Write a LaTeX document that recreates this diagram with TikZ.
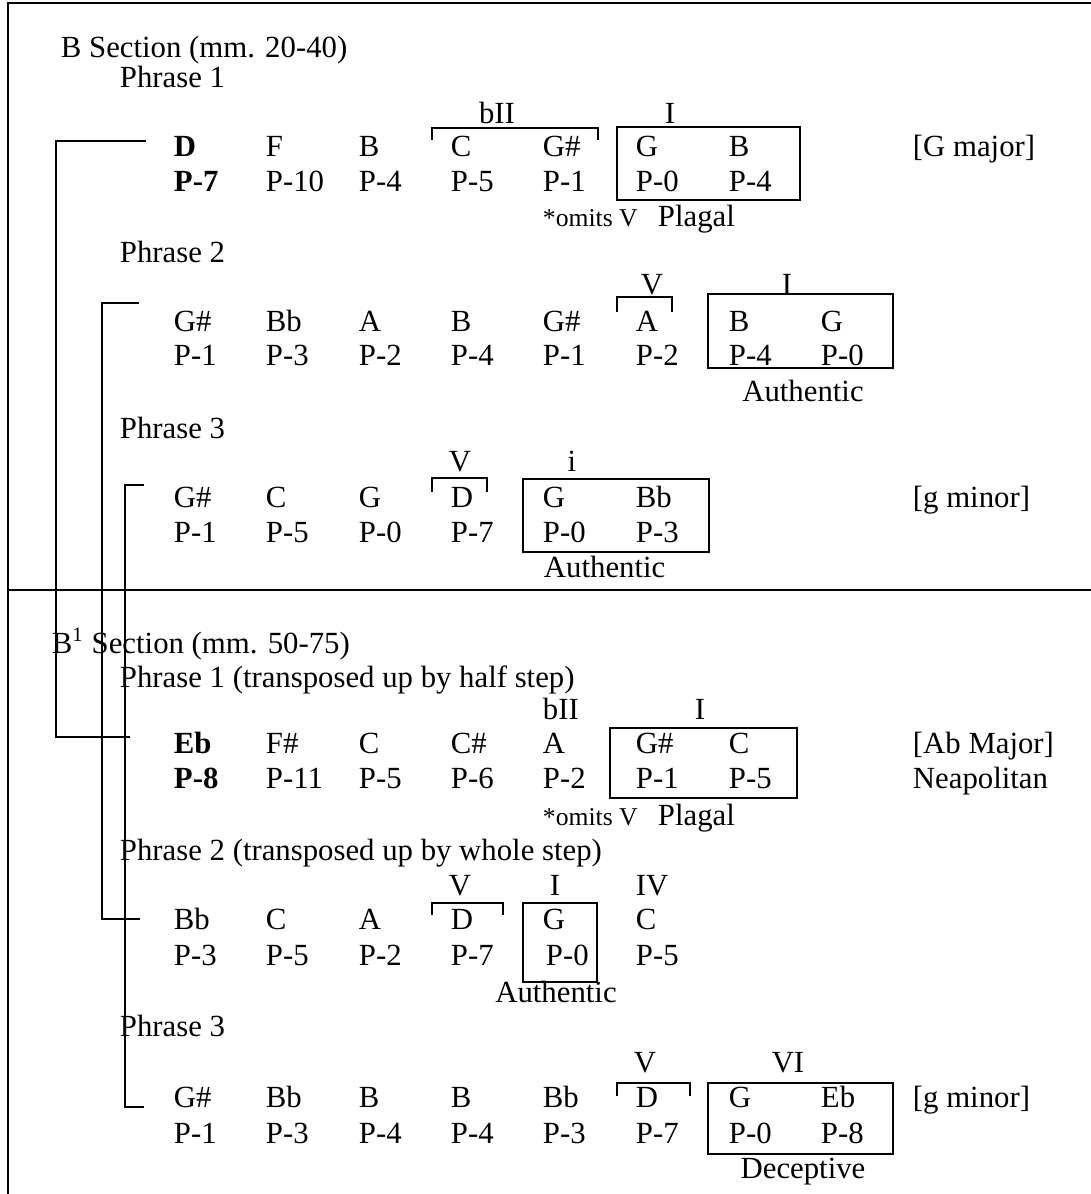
\documentclass[tikz,border=0pt,12pt]{standalone}
\usepackage{fontspec}
\setmainfont{Liberation Serif}

\begin{document}
\begin{tikzpicture}[x=0.39pt, y=-0.39pt, line width=0.75pt,
  lab/.style={anchor=base west, inner sep=0pt},
  mid/.style={anchor=base, inner sep=0pt},
  note/.style={anchor=base west, inner sep=0pt, font=\fontsize{10}{12}\selectfont}]

\useasboundingbox (0,0) rectangle (1091,1194);

% frame
\draw (8,1194) -- (8,3) -- (1091,3);
\draw (8,590) -- (1091,590);

% B section
\node[lab] (bsec) at (60,57) {B Section (mm. 20-40)};

% phrase 1
\node[lab] (pa1) at (119,87) {Phrase 1};
\node[mid] (r11) at (497,123) {bII};
\node[mid] (r12) at (670,123) {I};
\node[lab] (n11) at (173,156) {\textbf{D}};
\node[lab] (n12) at (265,156) {F};
\node[lab] (n13) at (358,156) {B};
\node[lab] (n14) at (450,156) {C};
\node[lab] (n15) at (542,156) {G\#};
\node[lab] (n16) at (635,156) {G};
\node[lab] (n17) at (728,156) {B};
\node[lab] (k1) at (912,156) {[G major]};
\node[lab] (p11) at (173,191) {\textbf{P-7}};
\node[lab] (p12) at (265,191) {P-10};
\node[lab] (p13) at (358,191) {P-4};
\node[lab] (p14) at (450,191) {P-5};
\node[lab] (p15) at (542,191) {P-1};
\node[lab] (p16) at (635,191) {P-0};
\node[lab] (p17) at (728,191) {P-4};
\node[note] (o1) at (542,226) {*omits V};
\node[lab] (c1) at (657,226) {Plagal};
\draw (432,140) -- (432,128) -- (598,128) -- (598,140);
\draw (617,127) rectangle (800,200);

% phrase 2
\node[lab] (pa2) at (119,262) {Phrase 2};
\node[mid] (r21) at (652,294) {V};
\node[mid] (r22) at (787,294) {I};
\node[lab] (n21) at (173,331) {G\#};
\node[lab] (n22) at (265,331) {Bb};
\node[lab] (n23) at (358,331) {A};
\node[lab] (n24) at (450,331) {B};
\node[lab] (n25) at (542,331) {G\#};
\node[lab] (n26) at (635,331) {A};
\node[lab] (n27) at (728,331) {B};
\node[lab] (n28) at (820,331) {G};
\node[lab] (p21) at (173,365) {P-1};
\node[lab] (p22) at (265,365) {P-3};
\node[lab] (p23) at (358,365) {P-2};
\node[lab] (p24) at (450,365) {P-4};
\node[lab] (p25) at (542,365) {P-1};
\node[lab] (p26) at (635,365) {P-2};
\node[lab] (p27) at (728,365) {P-4};
\node[lab] (p28) at (820,365) {P-0};
\node[mid] (c2) at (803,401) {Authentic};
\draw (617,312) -- (617,297) -- (672,297) -- (672,312);
\draw (708,294) rectangle (893,368);

% phrase 3
\node[lab] (pa3) at (119,438) {Phrase 3};
\node[mid] (r31) at (460,471) {V};
\node[mid] (r32) at (572,471) {i};
\node[lab] (n31) at (173,507) {G\#};
\node[lab] (n32) at (265,507) {C};
\node[lab] (n33) at (358,507) {G};
\node[lab] (n34) at (450,507) {D};
\node[lab] (n35) at (542,507) {G};
\node[lab] (n36) at (635,507) {Bb};
\node[lab] (k3) at (912,507) {[g minor]};
\node[lab] (p31) at (173,542) {P-1};
\node[lab] (p32) at (265,542) {P-5};
\node[lab] (p33) at (358,542) {P-0};
\node[lab] (p34) at (450,542) {P-7};
\node[lab] (p35) at (542,542) {P-0};
\node[lab] (p36) at (635,542) {P-3};
\node[lab] (c3) at (543,577) {Authentic};
\draw (432,492) -- (432,478) -- (487,478) -- (487,492);
\draw (523,479) rectangle (709,552);

% B1 section
\node[lab] (bsec1) at (51,653) {B\textsuperscript{1} Section (mm. 50-75)};

% phrase 1 transposed
\node[lab] (pa4) at (119,687) {Phrase 1 (transposed up by half step)};
\node[lab] (r41) at (542,719) {bII};
\node[mid] (r42) at (700,719) {I};
\node[lab] (n41) at (173,753) {\textbf{Eb}};
\node[lab] (n42) at (265,753) {F\#};
\node[lab] (n43) at (358,753) {C};
\node[lab] (n44) at (450,753) {C\#};
\node[lab] (n45) at (542,753) {A};
\node[lab] (n46) at (635,753) {G\#};
\node[lab] (n47) at (728,753) {C};
\node[lab] (k4) at (912,753) {[Ab Major]};
\node[lab] (p41) at (173,788) {\textbf{P-8}};
\node[lab] (p42) at (265,788) {P-11};
\node[lab] (p43) at (358,788) {P-5};
\node[lab] (p44) at (450,788) {P-6};
\node[lab] (p45) at (542,788) {P-2};
\node[lab] (p46) at (635,788) {P-1};
\node[lab] (p47) at (728,788) {P-5};
\node[lab] (k4b) at (912,788) {Neapolitan};
\node[note] (o4) at (542,825) {*omits V};
\node[lab] (c4) at (657,825) {Plagal};
\draw (610,728) rectangle (797,798);

% phrase 2 transposed
\node[lab] (pa5) at (119,860) {Phrase 2 (transposed up by whole step)};
\node[mid] (r51) at (460,895) {V};
\node[mid] (r52) at (555,895) {I};
\node[lab] (r53) at (635,895) {IV};
\node[lab] (n51) at (173,929) {Bb};
\node[lab] (n52) at (265,929) {C};
\node[lab] (n53) at (358,929) {A};
\node[lab] (n54) at (450,929) {D};
\node[lab] (n55) at (542,929) {G};
\node[lab] (n56) at (635,929) {C};
\node[lab] (p51) at (173,965) {P-3};
\node[lab] (p52) at (265,965) {P-5};
\node[lab] (p53) at (358,965) {P-2};
\node[lab] (p54) at (450,965) {P-7};
\node[lab] (p55) at (545,965) {P-0};
\node[lab] (p56) at (635,965) {P-5};
\node[mid] (c5) at (556,1002) {Authentic};
\draw (432,915) -- (432,903) -- (503,903) -- (503,915);
\draw (523,903) rectangle (597,982);

% phrase 3 again
\node[lab] (pa6) at (119,1036) {Phrase 3};
\node[mid] (r61) at (645,1072) {V};
\node[mid] (r62) at (788,1072) {VI};
\node[lab] (n61) at (173,1107) {G\#};
\node[lab] (n62) at (265,1107) {Bb};
\node[lab] (n63) at (358,1107) {B};
\node[lab] (n64) at (450,1107) {B};
\node[lab] (n65) at (542,1107) {Bb};
\node[lab] (n66) at (635,1107) {D};
\node[lab] (n67) at (728,1107) {G};
\node[lab] (n68) at (820,1107) {Eb};
\node[lab] (k6) at (912,1107) {[g minor]};
\node[lab] (p61) at (173,1143) {P-1};
\node[lab] (p62) at (265,1143) {P-3};
\node[lab] (p63) at (358,1143) {P-4};
\node[lab] (p64) at (450,1143) {P-4};
\node[lab] (p65) at (542,1143) {P-3};
\node[lab] (p66) at (635,1143) {P-7};
\node[lab] (p67) at (728,1143) {P-0};
\node[lab] (p68) at (820,1143) {P-8};
\node[mid] (c6) at (803,1178) {Deceptive};
\draw (617,1096) -- (617,1083) -- (690,1083) -- (690,1096);
\draw (708,1083) rectangle (893,1154);

% links between the phrases
\coordinate (l1a) at (146,141);
\coordinate (l1b) at (130,737);
\coordinate (l2a) at (139,303);
\coordinate (l2b) at (140,919);
\coordinate (l3a) at (144,485);
\coordinate (l3b) at (144,1107);
\draw (l1a) -- (56,141) |- (l1b);
\draw (l2a) -- (102,303) |- (l2b);
\draw (l3a) -- (125,485) |- (l3b);

\end{tikzpicture}
\end{document}
